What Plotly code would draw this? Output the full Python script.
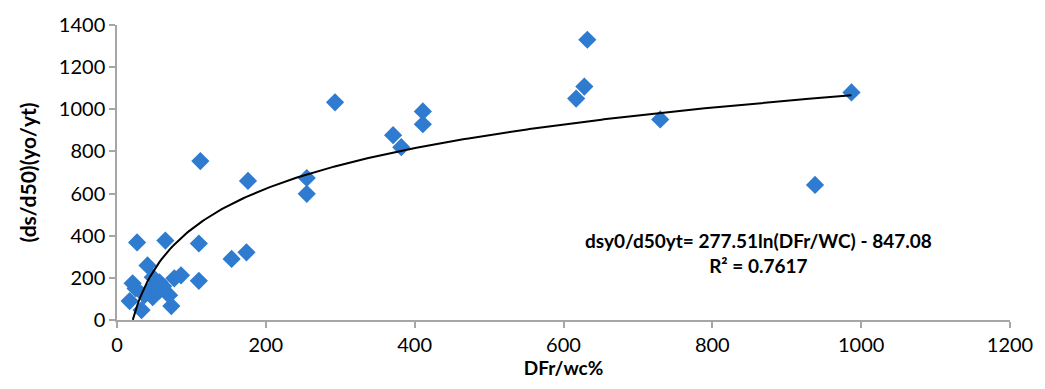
import numpy as np
import plotly.graph_objects as go

# data
dfr_wc = [632, 628, 617, 730, 938, 987,
          112, 176, 255, 255, 293, 371, 382, 411, 411,
          27, 65, 110, 110, 154, 174, 86, 77, 73, 33, 17, 21,
          41, 48, 57, 44, 57, 48, 37, 70, 25, 62]
ds_ratio = [1330, 1108, 1051, 952, 641, 1080,
            754, 660, 674, 599, 1033, 877, 820, 990, 929,
            368, 377, 363, 186, 290, 321, 212, 198, 66, 47, 90, 174,
            259, 203, 179, 141, 141, 108, 118, 118, 150, 160]

coef_a = 277.51
coef_b = -847.08
fit_x = np.linspace(21.2, 987, 300)
fit_y = coef_a * np.log(fit_x) + coef_b

x_ticks = [0, 200, 400, 600, 800, 1000, 1200]
y_ticks = [0, 200, 400, 600, 800, 1000, 1200, 1400]

FONT = "Lato"

fig = go.Figure()
fig.add_trace(go.Scatter(x=dfr_wc, y=ds_ratio, mode="markers",
                         marker=dict(symbol="diamond", size=14, color="#2E7BD0",
                                     line=dict(width=0)),
                         showlegend=False))
fig.add_trace(go.Scatter(x=fit_x, y=fit_y, mode="lines",
                         line=dict(color="black", width=2), showlegend=False))

fig.add_annotation(x=862, y=318, xref="x", yref="y",
                   text="<b>dsy0/d50yt= 277.51ln(DFr/WC) - 847.08</b><br><b>R² = 0.7617</b>",
                   align="center", showarrow=False,
                   font=dict(family=FONT, size=19, color="black"))

axis_common = dict(showgrid=False, zeroline=False, showline=True,
                   linecolor="#A6A6A6", linewidth=1.5, ticks="outside",
                   tickcolor="#A6A6A6", ticklen=6, tickwidth=1.5,
                   tickfont=dict(family=FONT, size=20, color="black"))

fig.update_xaxes(range=[0, 1200], tickvals=x_ticks,
                 title=dict(text="<b>DFr/wc%</b>", font=dict(family=FONT, size=19, color="black"),
                            standoff=6),
                 **axis_common)
fig.update_yaxes(range=[0, 1400], tickvals=y_ticks,
                 title=dict(text="<b>(ds/d50)(yo/yt)</b>", font=dict(family=FONT, size=21, color="black"),
                            standoff=16),
                 **axis_common)

fig.update_layout(width=1045, height=389, margin=dict(l=117, r=26, t=23, b=69),
                  plot_bgcolor="white", paper_bgcolor="white")

fig.write_html("out.html")
